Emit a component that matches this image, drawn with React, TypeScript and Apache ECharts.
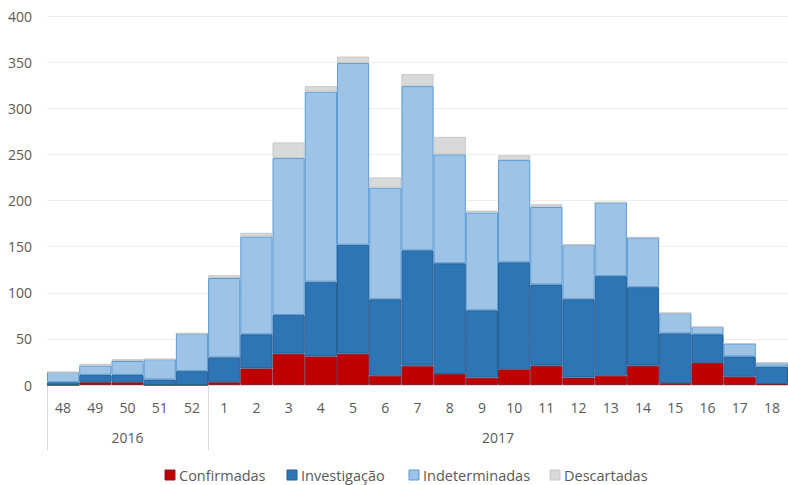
import React, { useEffect, useRef } from "react";
import * as echarts from "echarts";

const weeks = ["48", "49", "50", "51", "52", "1", "2", "3", "4", "5", "6", "7", "8", "9", "10", "11", "12", "13", "14", "15", "16", "17", "18"];
const confirmadas = [0, 3, 3, 0, 0, 3, 18, 34, 31, 34, 10, 21, 12, 8, 17, 21, 8, 10, 21, 2, 24, 9, 1];
const investigacao = [3, 8, 8, 6, 15, 27, 37, 42, 81, 118, 83, 125, 120, 73, 116, 88, 85, 108, 85, 54, 31, 22, 19];
const indeterminadas = [11, 10, 15, 22, 41, 86, 106, 170, 206, 197, 121, 178, 118, 106, 111, 84, 59, 80, 54, 22, 8, 14, 4];
const descartadas = [0, 2, 2, 0, 0, 3, 4, 17, 6, 7, 11, 13, 19, 2, 5, 3, 0, 0, 0, 0, 0, 0, 0];
const seriesNames = ["Confirmadas", "Investigação", "Indeterminadas", "Descartadas"];
const years = ["2016", "2017"];
const yearSpans = [5, 18];
const yTicks = { min: 0, max: 400, interval: 50 };

const FONT = "'Open Sans', sans-serif";
const TEXT = "#595959";
const fills = ["#C00000", "#2E75B6", "#9DC3E6", "#D9D9D9"];
const borders = ["#8E1A2A", "#245E93", "#5B9BD5", "#C8C8C8"];
const legendX = [165, 287, 409, 550];
const legendY = 475;

export default function App() {
  const ref = useRef<HTMLDivElement>(null);
  useEffect(() => {
    if (!ref.current) return;
    const chart = echarts.init(ref.current, null, { renderer: "svg" });
    const bounds: number[] = [0];
    const centers: number[] = [];
    yearSpans.forEach((s, i) => {
      centers.push(bounds[i] + s / 2);
      bounds.push(bounds[i] + s);
    });
    const values = [confirmadas, investigacao, indeterminadas, descartadas];
    const legendGraphic: any[] = [];
    seriesNames.forEach((name, i) => {
      legendGraphic.push({
        type: "rect",
        x: legendX[i],
        y: legendY - 5,
        shape: { width: 10, height: 10 },
        style: { fill: fills[i], stroke: borders[i], lineWidth: 1 },
        silent: true,
      });
      legendGraphic.push({
        type: "text",
        x: legendX[i] + 14,
        y: legendY,
        style: { text: name, fill: TEXT, font: `14.5px ${FONT}`, textVerticalAlign: "middle", verticalAlign: "middle" },
        silent: true,
      });
    });
    chart.setOption({
      animation: false,
      textStyle: { fontFamily: FONT },
      grid: { left: 47, top: 16, width: 743, height: 369 },
      legend: { show: false },
      graphic: legendGraphic,
      xAxis: [
        {
          type: "category",
          data: weeks,
          axisLine: { lineStyle: { color: "#D9D9D9" } },
          axisTick: { show: false },
          axisLabel: { color: TEXT, fontSize: 14, margin: 15, interval: 0, fontFamily: FONT },
        },
        {
          type: "value",
          position: "bottom",
          min: 0,
          max: weeks.length,
          axisLine: { show: false },
          splitLine: { show: false },
          axisTick: { show: true, customValues: bounds, length: 65, lineStyle: { color: "#D9D9D9" } },
          axisLabel: {
            customValues: centers,
            color: TEXT,
            fontSize: 14,
            margin: 45,
            fontFamily: FONT,
            formatter: (v: number) => {
              const i = centers.findIndex((c) => Math.abs(c - v) < 1e-6);
              return i >= 0 ? years[i] : "";
            },
          },
        },
      ],
      yAxis: {
        type: "value",
        min: yTicks.min,
        max: yTicks.max,
        interval: yTicks.interval,
        axisLine: { show: false },
        axisTick: { show: false },
        splitLine: { lineStyle: { color: "#EEEEEE" } },
        axisLabel: { color: TEXT, fontSize: 14, margin: 15, fontFamily: FONT },
      },
      series: seriesNames.map((name, i) => ({
        name,
        type: "bar",
        stack: "total",
        data: values[i],
        barCategoryGap: "0%",
        itemStyle: { color: fills[i], borderColor: borders[i], borderWidth: 1 },
      })),
    });
    return () => chart.dispose();
  }, []);
  return <div ref={ref} style={{ position: "absolute", left: 0, top: 0, width: 788, height: 485 }} />;
}
